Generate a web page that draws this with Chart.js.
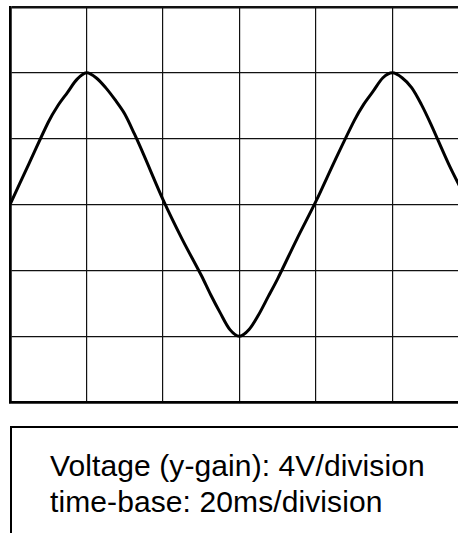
<!DOCTYPE html>
<html><head><meta charset="utf-8">
<script src="https://cdn.jsdelivr.net/npm/chart.js@4/dist/chart.umd.min.js"></script>
<style>
html,body{margin:0;padding:0;background:#fff;overflow:hidden;width:458px;height:533px;}
#c{position:absolute;left:0;top:0;}
#box{position:absolute;left:10px;top:426px;width:480px;height:150px;border:2px solid #000;box-sizing:border-box;
 font-family:"Liberation Sans",Arial,Helvetica,sans-serif;font-size:30px;letter-spacing:0.1px;line-height:36px;color:#000;padding-top:20px;padding-left:38px;}
#box div{white-space:nowrap;}
</style></head>
<body>
<canvas id="c" width="480" height="412"></canvas>
<div id="box"><div>Voltage (y-gain): 4V/division</div><div>time-base: 20ms/division</div></div>
<script>
// time (ms), 20 ms per division
const timeMs = [0,5,10,12.5,15,17.5,20,22.5,25,27.5,30,32.5,35,40,45,50,52.5,55,57.5,60,62.5,65,67.5,70,75,80,85,90,92.5,95,97.5,100,102.5,105,107.5,110,115,120];
// voltage (V), 4 V per division
const voltage = [0,2.5,5.0,6.0,6.8,7.6,8.0,7.7,7.1,6.35,5.5,4.3,3.0,0.3,-2.1,-4.3,-5.5,-6.6,-7.6,-8.0,-7.6,-6.7,-5.6,-4.5,-2.1,0.2,2.7,5.1,6.1,6.9,7.7,8.0,7.7,7.1,6.1,4.9,2.3,0];
const xTicks = [0,20,40,60,80,100,120];
const yTicks = [-12,-8,-4,0,4,8,12];

const edgeWidth = (ticks) => (c) => {
  const v = c.tick ? c.tick.value : null;
  return (v === ticks[0] || v === ticks[ticks.length-1]) ? 2.5 : 1.2;
};

new Chart(document.getElementById('c').getContext('2d'), {
  type: 'line',
  data: { datasets: [{
    data: timeMs.map((t,i)=>({x:t, y:voltage[i]})),
    borderColor: '#000', borderWidth: 3, pointRadius: 0, fill: false,
    tension: 0.3
  }]},
  options: {
    responsive: false, animation: false, devicePixelRatio: 1,
    layout: { padding: { left: 10, top: 7, right: 11, bottom: 10 } },
    plugins: { legend: { display: false }, tooltip: { enabled: false } },
    scales: {
      x: { type: 'linear', min: xTicks[0], max: xTicks[xTicks.length-1],
        afterBuildTicks: a => { a.ticks = xTicks.map(v=>({value:v})); },
        ticks: { display: false },
        grid: { color: '#111', lineWidth: edgeWidth(xTicks), drawTicks: false },
        border: { display: true, color: '#000', width: 2.5 } },
      y: { type: 'linear', min: yTicks[0], max: yTicks[yTicks.length-1],
        afterBuildTicks: a => { a.ticks = yTicks.map(v=>({value:v})); },
        ticks: { display: false },
        grid: { color: '#111', lineWidth: edgeWidth(yTicks), drawTicks: false },
        border: { display: true, color: '#000', width: 2.5 } }
    }
  }
});
</script>
</body></html>
